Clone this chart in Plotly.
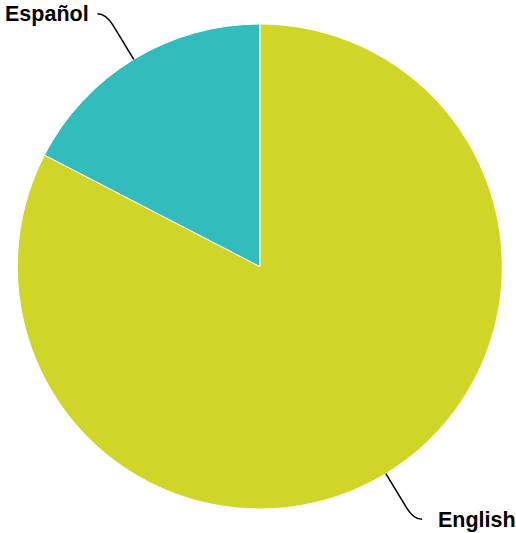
import math
import plotly.graph_objects as go

labels = ["English", "Español"]
values = [82.6, 17.4]
colors = ["#CFD628", "#33BCBE"]

W, H = 516, 533
CX, CY, R = 259.8, 266.5, 242.5  # pixel centre / radius of the pie

def px(x, y):
    return x / W, 1 - y / H

fig = go.Figure(go.Pie(
    labels=labels, values=values, sort=False, direction="clockwise", rotation=0,
    marker=dict(colors=colors, line=dict(color="white", width=1)),
    textinfo="none", hoverinfo="label+percent", showlegend=False,
    domain=dict(x=[(CX - R) / W, (CX + R) / W], y=[1 - (CY + R) / H, 1 - (CY - R) / H]),
))

shapes, annotations = [], []
total = sum(values)
cum = 0.0
for lab, v in zip(labels, values):
    mid = (cum + v / 2) / total * 2 * math.pi
    cum += v
    dx, dy = math.sin(mid), -math.cos(mid)
    p0 = (CX + R * dx, CY + R * dy)
    p1 = (p0[0] + dx * 40, p0[1] + dy * 40)
    pc = (p0[0] + dx * 53.5, p0[1] + dy * 53.5)
    hs = 1 if dx >= 0 else -1
    pe = (pc[0] + hs * 8.5, pc[1])
    pts = [px(*p) for p in (p0, p1, pc, pe)]
    path = "M {0[0]},{0[1]} L {1[0]},{1[1]} Q {2[0]},{2[1]} {3[0]},{3[1]}".format(*pts)
    shapes.append(dict(type="path", xref="paper", yref="paper", path=path,
                       line=dict(color="black", width=1.5)))
    gap = 13.5 if hs > 0 else 6.5
    tx, ty = px(pe[0] + hs * gap, pe[1] + 0.5)
    annotations.append(dict(x=tx, y=ty, xref="paper", yref="paper", text="<b>%s</b>" % lab,
                            showarrow=False, xanchor="left" if hs > 0 else "right",
                            yanchor="middle",
                            font=dict(family="Liberation Sans, Arial, sans-serif", size=21.5,
                                      color="black")))

fig.update_layout(width=W, height=H, margin=dict(l=0, r=0, t=0, b=0),
                  paper_bgcolor="white", plot_bgcolor="white",
                  shapes=shapes, annotations=annotations)
fig.write_html("out.html", config={"displayModeBar": False},
               post_script="document.body.style.margin='0';")
